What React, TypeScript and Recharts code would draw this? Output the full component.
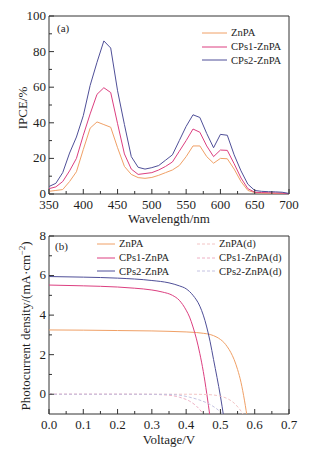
import { LineChart, Line, XAxis, YAxis, ReferenceArea, Legend, Label } from 'recharts';

const FONT = '"Liberation Serif", "Times New Roman", Times, serif';
const INK = '#1e1e1e';

// (a) IPCE spectra
const wavelengths = [
  350, 360, 370, 380, 390, 400, 410, 420, 430, 440, 450, 460, 470, 480, 490, 500, 510, 520,
  530, 540, 550, 560, 570, 580, 590, 600, 610, 620, 630, 640, 650, 660, 670, 680, 690, 700,
];
const ipceZnPA = [
  1.5, 2, 2.5, 7, 12.5, 25, 37, 40.5, 39, 37.5, 26, 15.5, 11, 9.2, 8.8, 9.3, 10.5, 12,
  13.5, 16, 21, 27, 27, 21, 17.3, 20, 19.8, 14, 7, 2, 0.8, 0.5, 0.4, 0.3, 0.3, 0.2,
];
const ipceCPs1 = [
  3, 4, 7, 13, 20, 33, 45, 56, 59.7, 57, 39.5, 22.5, 14, 11, 11.5, 12, 13.5, 15.5,
  18, 24, 30, 36.5, 34.7, 27, 21, 24.7, 24.5, 17, 9, 3, 1, 0.8, 0.7, 0.6, 0.5, 0.2,
];
const ipceCPs2 = [
  4.2, 6, 12, 23, 32, 44, 61, 74, 86, 82, 58, 39, 21, 15, 14, 14.8, 16, 19,
  22, 30, 38, 44.5, 43, 34, 26, 33.5, 33, 22, 13, 5.5, 2, 1.5, 1.3, 1.2, 1, 0.3,
];

// (b) J-V curves
const vZnPA = [0, 0.1, 0.2, 0.3, 0.35, 0.4, 0.43, 0.45, 0.47, 0.49, 0.5, 0.51, 0.52, 0.53, 0.54, 0.55, 0.56, 0.57, 0.58];
const jZnPA = [3.25, 3.24, 3.22, 3.2, 3.18, 3.15, 3.12, 3.08, 3.02, 2.88, 2.77, 2.62, 2.4, 2.12, 1.75, 1.25, 0.6, -0.3, -1.4];
const vCPs1 = [0, 0.1, 0.2, 0.25, 0.3, 0.33, 0.36, 0.38, 0.4, 0.41, 0.42, 0.43, 0.44, 0.45, 0.46, 0.47];
const jCPs1 = [5.52, 5.48, 5.42, 5.36, 5.27, 5.17, 5.0, 4.75, 4.25, 3.9, 3.4, 2.8, 2.05, 1.15, 0.05, -1.2];
const vCPs2 = [0, 0.1, 0.2, 0.3, 0.35, 0.38, 0.4, 0.42, 0.44, 0.45, 0.46, 0.47, 0.48, 0.49, 0.5, 0.51];
const jCPs2 = [5.95, 5.92, 5.87, 5.75, 5.63, 5.48, 5.33, 5.0, 4.45, 4.0, 3.4, 2.65, 1.75, 0.85, -0.1, -1.2];
const vZnPAd = [0, 0.2, 0.4, 0.45, 0.48, 0.5, 0.52, 0.54, 0.56, 0.58];
const jZnPAd = [0, 0, 0, -0.01, -0.04, -0.1, -0.22, -0.45, -0.85, -1.4];
const vCPs1d = [0, 0.1, 0.2, 0.3, 0.35, 0.38, 0.41, 0.43, 0.45, 0.47];
const jCPs1d = [0, 0, 0, -0.01, -0.05, -0.15, -0.35, -0.6, -1.0, -1.5];
const vCPs2d = [0, 0.2, 0.35, 0.38, 0.41, 0.44, 0.47, 0.49, 0.51, 0.53];
const jCPs2d = [0, 0, -0.01, -0.05, -0.15, -0.3, -0.52, -0.75, -1.05, -1.4];

const seriesNames = ['ZnPA', 'CPs1-ZnPA', 'CPs2-ZnPA', 'ZnPA(d)', 'CPs1-ZnPA(d)', 'CPs2-ZnPA(d)'];

const wlTicks = [350, 375, 400, 425, 450, 475, 500, 525, 550, 575, 600, 625, 650, 675, 700];
const wlMajor = [350, 400, 450, 500, 550, 600, 650, 700];
const ipceTicks = [0, 10, 20, 30, 40, 50, 60, 70, 80, 90, 100];
const ipceMajor = [0, 20, 40, 60, 80, 100];
const vTicks = [0, 0.05, 0.1, 0.15, 0.2, 0.25, 0.3, 0.35, 0.4, 0.45, 0.5, 0.55, 0.6, 0.65, 0.7];
const vMajor = [0, 0.1, 0.2, 0.3, 0.4, 0.5, 0.6, 0.7];
const jTicks = [0, 1, 2, 3, 4, 5, 6, 7, 8];
const jMajor = [0, 2, 4, 6, 8];

const ORANGE = '#f0a066';
const PINK = '#dc3f80';
const BLUE = '#4f4f98';

const ipceData = wavelengths.map((w, i) => ({
  w,
  a: ipceZnPA[i],
  b: ipceCPs1[i],
  c: ipceCPs2[i],
}));

const toPoints = (vs: number[], js: number[]) => vs.map((v, i) => ({ v, j: js[i] }));

const makeXTick = (majors: number[], fmt: (v: number) => string, labelDy: number) =>
  function XTick(props: any) {
    const { x, y, payload } = props;
    const major = majors.includes(payload.value);
    return (
      <g>
        <line x1={x} y1={y} x2={x} y2={y - (major ? 5 : 3)} stroke="#333" />
        {major && (
          <text x={x} y={y + labelDy} textAnchor="middle" fontSize={13} fill={INK} fontFamily={FONT}>
            {fmt(payload.value)}
          </text>
        )}
      </g>
    );
  };

const makeYTick = (majors: number[]) =>
  function YTick(props: any) {
    const { x, y, payload } = props;
    const major = majors.includes(payload.value);
    return (
      <g>
        <line x1={x} y1={y} x2={x + (major ? 5 : 3)} y2={y} stroke="#333" />
        {major && (
          <text x={x - 3} y={y} dy="0.3em" textAnchor="end" fontSize={13} fill={INK} fontFamily={FONT}>
            {payload.value}
          </text>
        )}
      </g>
    );
  };

const LegendBox = ({ payload, columns }: any) => {
  const items = [...(payload || [])].sort(
    (p: any, q: any) => seriesNames.indexOf(p.value) - seriesNames.indexOf(q.value),
  );
  const lineLen = columns > 1 ? 18 : 25;
  return (
    <div
      style={{
        display: 'grid',
        gridTemplateRows: 'repeat(3, 13.8px)',
        gridAutoFlow: 'column',
        gridTemplateColumns: columns > 1 ? '100px max-content' : 'max-content',
        fontFamily: FONT,
        fontSize: 10.6,
        color: INK,
        whiteSpace: 'nowrap',
      }}>
      {items.map((e: any) => (
        <div key={e.value} style={{ display: 'flex', alignItems: 'center', height: 13.8 }}>
          <svg width={lineLen} height={6} style={{ marginRight: 4 }}>
            <line
              x1={0}
              y1={3}
              x2={lineLen}
              y2={3}
              stroke={e.color}
              strokeWidth={1}
              strokeDasharray={e.payload?.strokeDasharray}
            />
          </svg>
          <span>{e.value}</span>
        </div>
      ))}
    </div>
  );
};

const axisTitle = (text: string, dy: number) => (p: any) => {
  const { viewBox } = p;
  return (
    <text x={viewBox.x + viewBox.width / 2} y={viewBox.y + dy} textAnchor="middle" fontSize={13} fill={INK} fontFamily={FONT}>
      {text}
    </text>
  );
};

const IpceYTitle = (p: any) => {
  const { viewBox } = p;
  const cy = viewBox.y + viewBox.height / 2 + 3;
  return (
    <text x={27} y={cy} transform={`rotate(-90 27 ${cy})`} textAnchor="middle" fontSize={13} fill={INK} fontFamily={FONT}>
      IPCE/%
    </text>
  );
};

const JYTitle = (p: any) => {
  const { viewBox } = p;
  const cy = viewBox.y + viewBox.height / 2 + 1;
  return (
    <text x={30} y={cy} transform={`rotate(-90 30 ${cy})`} textAnchor="middle" fontSize={13} fill={INK} fontFamily={FONT}>
      Photocurrent density/(mA·cm
      <tspan dy={-5} fontSize={8.5}>−2</tspan>
      <tspan dy={5}>)</tspan>
    </text>
  );
};

function IpceChart() {
  return (
    <LineChart width={318} height={228} data={ipceData} margin={{ top: 16, right: 29, left: 0, bottom: 0 }}>
      <XAxis
        dataKey="w"
        type="number"
        domain={[350, 700]}
        ticks={wlTicks}
        interval={0}
        height={34}
        tickSize={0}
        tickMargin={0}
        tickLine={false}
        axisLine={false}
        tick={makeXTick(wlMajor, (v) => String(v), 15)}>
        <Label content={axisTitle('Wavelength/nm', 29)} />
      </XAxis>
      <YAxis
        type="number"
        domain={[0, 100]}
        ticks={ipceTicks}
        interval={0}
        width={49}
        tickSize={0}
        tickMargin={0}
        tickLine={false}
        axisLine={false}
        tick={makeYTick(ipceMajor)}>
        <Label content={IpceYTitle} />
      </YAxis>
      <ReferenceArea
        x1={350}
        x2={700}
        y1={0}
        y2={100}
        fill="none"
        stroke="#333"
        strokeWidth={1}
        label={{ value: '(a)', position: 'insideTopLeft', offset: 8, fontSize: 11, fill: INK, fontFamily: FONT }}
      />
      <Legend
        layout="vertical"
        align="center"
        verticalAlign="middle"
        wrapperStyle={{ top: 26, left: 202, width: 'auto' }}
        content={(p: any) => <LegendBox payload={p.payload} columns={1} />}
      />
      <Line type="linear" dataKey="a" name="ZnPA" stroke={ORANGE} strokeWidth={1} dot={false} isAnimationActive={false} />
      <Line type="linear" dataKey="b" name="CPs1-ZnPA" stroke={PINK} strokeWidth={1} dot={false} isAnimationActive={false} />
      <Line type="linear" dataKey="c" name="CPs2-ZnPA" stroke={BLUE} strokeWidth={1} dot={false} isAnimationActive={false} />
    </LineChart>
  );
}

function JvChart() {
  const solid = [
    { name: 'ZnPA', data: toPoints(vZnPA, jZnPA), color: ORANGE },
    { name: 'CPs1-ZnPA', data: toPoints(vCPs1, jCPs1), color: PINK },
    { name: 'CPs2-ZnPA', data: toPoints(vCPs2, jCPs2), color: BLUE },
  ];
  const dark = [
    { name: 'ZnPA(d)', data: toPoints(vZnPAd, jZnPAd), color: '#f3c4c4' },
    { name: 'CPs1-ZnPA(d)', data: toPoints(vCPs1d, jCPs1d), color: '#eeb0c4' },
    { name: 'CPs2-ZnPA(d)', data: toPoints(vCPs2d, jCPs2d), color: '#c4c2e2' },
  ];
  return (
    <LineChart width={318} height={228} margin={{ top: 8, right: 29, left: 0, bottom: 0 }}>
      <XAxis
        dataKey="v"
        type="number"
        domain={[0, 0.7]}
        allowDataOverflow
        ticks={vTicks}
        interval={0}
        height={42}
        tickSize={0}
        tickMargin={0}
        tickLine={false}
        axisLine={false}
        tick={makeXTick(vMajor, (v) => v.toFixed(1), 15)}>
        <Label content={axisTitle('Voltage/V', 29.5)} />
      </XAxis>
      <YAxis
        type="number"
        domain={[-1, 8]}
        allowDataOverflow
        ticks={jTicks}
        interval={0}
        width={49}
        tickSize={0}
        tickMargin={0}
        tickLine={false}
        axisLine={false}
        tick={makeYTick(jMajor)}>
        <Label content={JYTitle} />
      </YAxis>
      <ReferenceArea
        x1={0}
        x2={0.7}
        y1={-1}
        y2={8}
        fill="none"
        stroke="#333"
        strokeWidth={1}
        label={{ value: '(b)', position: 'insideTopLeft', offset: 6, fontSize: 11, fill: INK, fontFamily: FONT }}
      />
      <Legend
        layout="vertical"
        align="center"
        verticalAlign="middle"
        wrapperStyle={{ top: 9, left: 97, width: 'auto' }}
        content={(p: any) => <LegendBox payload={p.payload} columns={2} />}
      />
      {solid.map((s) => (
        <Line
          key={s.name}
          data={s.data}
          type="monotone"
          dataKey="j"
          name={s.name}
          stroke={s.color}
          strokeWidth={1}
          dot={false}
          isAnimationActive={false}
        />
      ))}
      {dark.map((s) => (
        <Line
          key={s.name}
          data={s.data}
          type="monotone"
          dataKey="j"
          name={s.name}
          stroke={s.color}
          strokeWidth={1}
          strokeDasharray="3 2"
          dot={false}
          isAnimationActive={false}
        />
      ))}
    </LineChart>
  );
}

export default function App() {
  return (
    <div style={{ position: 'absolute', left: 0, top: 0, width: 318, height: 456, background: '#fff' }}>
      <IpceChart />
      <div style={{ position: 'absolute', left: 0, top: 228 }}>
        <JvChart />
      </div>
    </div>
  );
}
